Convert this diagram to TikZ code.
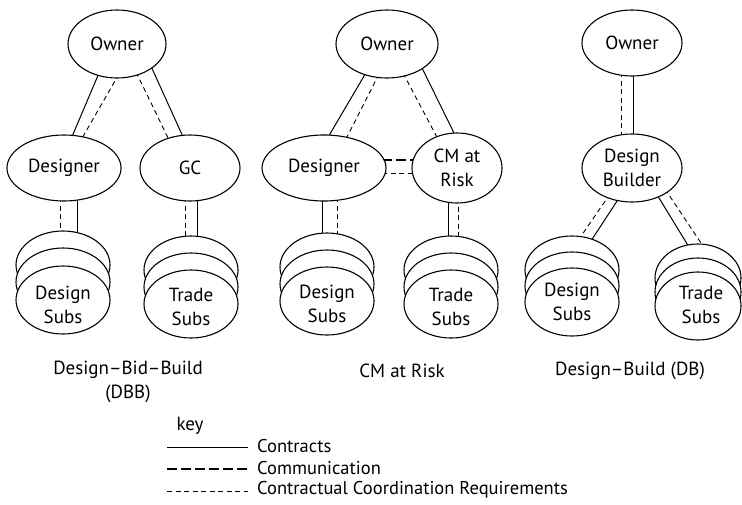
\documentclass[tikz,border=0pt]{standalone}
\usepackage{fontspec}
\setmainfont{PT Sans}
\usetikzlibrary{shapes.geometric,calc}
\pgfdeclarelayer{bg}
\pgfsetlayers{bg,main}
\begin{document}
\begin{tikzpicture}[x=1pt,y=-1pt,
  every node/.style={font=\fontsize{19}{24}\selectfont, align=center, inner sep=0pt},
  ell/.style={ellipse, draw, fill=white, line width=1.1pt},
  oval/.style 2 args={ell, minimum width=#1pt, minimum height=#2pt},
  stk/.style={ell, minimum width=94pt, minimum height=68pt},
  contract/.style={line width=1pt},
  coord/.style={line width=0.9pt, dash pattern=on 5pt off 3.5pt},
  comm/.style={line width=2pt, dash pattern=on 10pt off 4pt},
  lbl/.style={anchor=center},
  keytxt/.style={anchor=west, font=\fontsize{18.5}{22}\selectfont}]
\useasboundingbox (0,0) rectangle (742,504);

% ---------- DBB ----------
\node[oval={98}{68}] (O1) at (117,44) {Owner};
\node[oval={114}{66}] (D1) at (64,168) {Designer};
\node[oval={100}{66}] (G1) at (190,168) {GC};
\node[stk] (S1a) at (63,265) {};
\node[stk] (S1b) at (63,282) {};
\node[stk] (S1) at (63,300) {};
\node[lbl] (S1t) at ($(S1)+(0,5)$) {Design\\Subs};
\node[stk] (T1a) at (191,270) {};
\node[stk] (T1b) at (191,287) {};
\node[stk] (T1) at (191,304) {};
\node[lbl] (T1t) at ($(T1)+(0,3)$) {Trade\\Subs};

% ---------- CM at Risk ----------
\node[oval={102}{68}] (O2) at (387,44) {Owner};
\node[oval={124}{66}] (D2) at (324,168) {Designer};
\node[oval={90}{70}] (C2) at (457,168) {CM at\\Risk};
\node[stk] (S2a) at (327,267) {};
\node[stk] (S2b) at (327,284) {};
\node[stk] (S2) at (327,301) {};
\node[lbl] (S2t) at ($(S2)+(0,3)$) {Design\\Subs};
\node[stk] (T2a) at (451,270) {};
\node[stk] (T2b) at (451,287) {};
\node[stk] (T2) at (451,304) {};
\node[lbl] (T2t) at ($(T2)+(0,3)$) {Trade\\Subs};

% ---------- DB ----------
\node[oval={100}{66}] (O3) at (632,43) {Owner};
\node[oval={100}{68}] (B3) at (632,168) {Design\\Builder};
\node[stk] (S3a) at (572,270) {};
\node[stk] (S3b) at (572,286) {};
\node[stk] (S3) at (572,302) {};
\node[lbl] (S3t) at ($(S3)+(0,0)$) {Design\\Subs};
\node[stk, minimum width=86pt] (T3a) at (698,278) {};
\node[stk, minimum width=86pt] (T3b) at (698,292) {};
\node[stk, minimum width=86pt] (T3) at (698,306) {};
\node[lbl] (T3t) at ($(T3)+(3,-1)$) {Trade\\Subs};

% ---------- connectors ----------
\begin{pgfonlayer}{bg}
% DBB
\draw[contract] ($(O1)+(-18,29)$) -- ($(D1)+(7,-29)$);
\draw[coord]    ($(O1)+(2,30)$)   -- ($(D1)+(17,-28)$);
\draw[coord]    ($(O1)+(19,28)$)  -- ($(G1)+(-20,-26)$);
\draw[contract] ($(O1)+(33,20)$)  -- ($(G1)+(-6,-29)$);
\draw[coord]    ($(D1)+(-4,29)$)  -- ($(S1a)+(-3,-29)$);
\draw[contract] ($(D1)+(13,28)$)  -- ($(S1a)+(14,-29)$);
\draw[coord]    ($(G1)+(-5,29)$)  -- ($(T1a)+(-6,-29)$);
\draw[contract] ($(G1)+(7,29)$)   -- ($(T1a)+(6,-29)$);
% CM at Risk
\draw[contract] ($(O2)+(-20,27)$) -- ($(D2)+(3,-29)$);
\draw[coord]    ($(O2)+(-8,30)$)  -- ($(D2)+(21,-27)$);
\draw[coord]    ($(O2)+(16,29)$)  -- ($(C2)+(-18,-27)$);
\draw[contract] ($(O2)+(34,22)$)  -- ($(C2)+(0,-29)$);
\draw[comm]     ($(D2)+(58,-8)$)  -- ($(C2)+(-40,-8)$);
\draw[coord]    ($(D2)+(58,5)$)   -- ($(C2)+(-40,5)$);
\draw[contract] ($(D2)+(-2,29)$)  -- ($(S2a)+(-5,-29)$);
\draw[coord]    ($(D2)+(13,29)$)  -- ($(S2a)+(10,-29)$);
\draw[contract] ($(C2)+(-9,30)$)  -- ($(T2a)+(-3,-29)$);
\draw[coord]    ($(C2)+(1,30)$)   -- ($(T2a)+(7,-29)$);
% DB
\draw[coord]    ($(O3)+(-11,29)$) -- ($(B3)+(-11,-29)$);
\draw[contract] ($(O3)+(1,29)$)   -- ($(B3)+(1,-29)$);
\draw[coord]    ($(B3)+(-22,26)$) -- ($(S3a)+(5,-28)$);
\draw[contract] ($(B3)+(-13,30)$) -- ($(S3a)+(17,-26)$);
\draw[contract] ($(B3)+(24,25)$)  -- ($(T3a)+(-6,-26)$);
\draw[coord]    ($(B3)+(33,21)$)  -- ($(T3a)+(7,-29)$);
\end{pgfonlayer}

% ---------- titles ----------
\node (title1) at (128,382) {Design–Bid–Build\\(DBB)};
\node (title2) at (402,371) {CM at Risk};
\node (title3) at (630,371) {Design–Build (DB)};

% ---------- key ----------
\node (key) at (190,426) {key};
\coordinate (k1a) at (167,447); \coordinate (k1b) at (248,447);
\coordinate (k2a) at (167,469); \coordinate (k2b) at (248,469);
\coordinate (k3a) at (167,491); \coordinate (k3b) at (248,491);
\draw[contract] (k1a) -- (k1b);
\draw[comm] (k2a) -- (k2b);
\draw[coord] (k3a) -- (k3b);
\node[keytxt] (kt1) at (257,446) {Contracts};
\node[keytxt] (kt2) at (257,468) {Communication};
\node[keytxt] (kt3) at (257,490) {Contractual Coordination Requirements};
\end{tikzpicture}
\end{document}
